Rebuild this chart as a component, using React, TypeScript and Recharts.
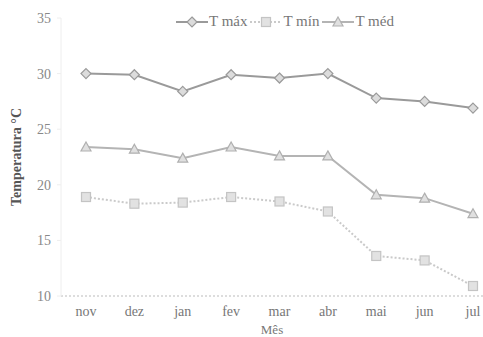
import { LineChart, Line, XAxis, YAxis, Legend } from "recharts";

const months = ["nov", "dez", "jan", "fev", "mar", "abr", "mai", "jun", "jul"];
const tMax = [30.0, 29.9, 28.4, 29.9, 29.6, 30.0, 27.8, 27.5, 26.9];
const tMin = [18.9, 18.3, 18.4, 18.9, 18.5, 17.6, 13.6, 13.2, 10.9];
const tMed = [23.4, 23.2, 22.4, 23.4, 22.6, 22.6, 19.1, 18.8, 17.4];
const yTicks = [10, 15, 20, 25, 30, 35];

const data = months.map((m, i) => ({ mes: m, max: tMax[i], min: tMin[i], med: tMed[i] }));

const FONT = "'Liberation Serif', 'DejaVu Serif', serif";

type DotProps = { cx?: number; cy?: number };

const Diamond = ({ cx = 0, cy = 0 }: DotProps) => (
  <path
    d={`M${cx},${cy - 5} L${cx + 5},${cy} L${cx},${cy + 5} L${cx - 5},${cy} Z`}
    fill="#dcdcdc"
    stroke="#9a9a9a"
    strokeWidth={1.2}
  />
);

const Square = ({ cx = 0, cy = 0 }: DotProps) => (
  <rect x={cx - 4.5} y={cy - 4.5} width={9} height={9} fill="#e2e2e2" stroke="#c4c4c4" strokeWidth={1.2} />
);

const Triangle = ({ cx = 0, cy = 0 }: DotProps) => (
  <path
    d={`M${cx},${cy - 5} L${cx + 5},${cy + 4} L${cx - 5},${cy + 4} Z`}
    fill="#e0e0e0"
    stroke="#b0b0b0"
    strokeWidth={1.2}
  />
);

const legendItems = [
  { label: "T máx", color: "#9a9a9a", dash: undefined, Mark: Diamond },
  { label: "T mín", color: "#cacaca", dash: "2 2", Mark: Square },
  { label: "T méd", color: "#b4b4b4", dash: undefined, Mark: Triangle },
];

const LegendContent = () => (
  <div style={{ display: "flex", alignItems: "center", fontFamily: FONT, fontSize: 15, color: "#777" }}>
    {legendItems.map(({ label, color, dash, Mark }) => (
      <div key={label} style={{ display: "flex", alignItems: "center", marginRight: 3 }}>
        <svg width={32} height={12}>
          <line x1={0} y1={6} x2={32} y2={6} stroke={color} strokeWidth={2} strokeDasharray={dash} />
          <Mark cx={16} cy={6} />
        </svg>
        <span style={{ marginLeft: 1 }}>{label}</span>
      </div>
    ))}
  </div>
);

export default function App() {
  return (
    <div style={{ position: "absolute", left: 0, top: 0, background: "#fff" }}>
      <LineChart width={483} height={337} data={data} margin={{ top: 18, right: 0, bottom: 0, left: 0 }}>
        <XAxis
          dataKey="mes"
          height={41}
          padding={{ left: 25, right: 10 }}
          stroke="#bbb"
          strokeDasharray="2 2"
          tickLine={false}
          tickMargin={4}
          tick={{ fill: "#777", fontSize: 14, fontFamily: FONT }}
          label={{ value: "Mês", position: "insideBottom", offset: 3, fill: "#777", fontSize: 13, fontFamily: FONT }}
        />
        <YAxis
          domain={[10, 35]}
          ticks={yTicks}
          width={61}
          stroke="#eee"
          tickSize={4}
          tickMargin={6}
          tick={{ fill: "#888", fontSize: 14, fontFamily: FONT }}
          label={{
            value: "Temperatura °C",
            angle: -90,
            position: "insideLeft",
            offset: 16,
            style: { textAnchor: "middle" },
            fill: "#555",
            fontSize: 14,
            fontWeight: "bold",
            fontFamily: FONT,
          }}
        />
        <Legend
          layout="horizontal"
          verticalAlign="middle"
          align="center"
          wrapperStyle={{ top: 13, left: 176, width: 270 }}
          content={LegendContent}
        />
        <Line dataKey="min" stroke="#cacaca" strokeWidth={2} strokeDasharray="2 2" dot={<Square />} isAnimationActive={false} />
        <Line dataKey="med" stroke="#b4b4b4" strokeWidth={2} dot={<Triangle />} isAnimationActive={false} />
        <Line dataKey="max" stroke="#9a9a9a" strokeWidth={2} dot={<Diamond />} isAnimationActive={false} />
      </LineChart>
    </div>
  );
}
